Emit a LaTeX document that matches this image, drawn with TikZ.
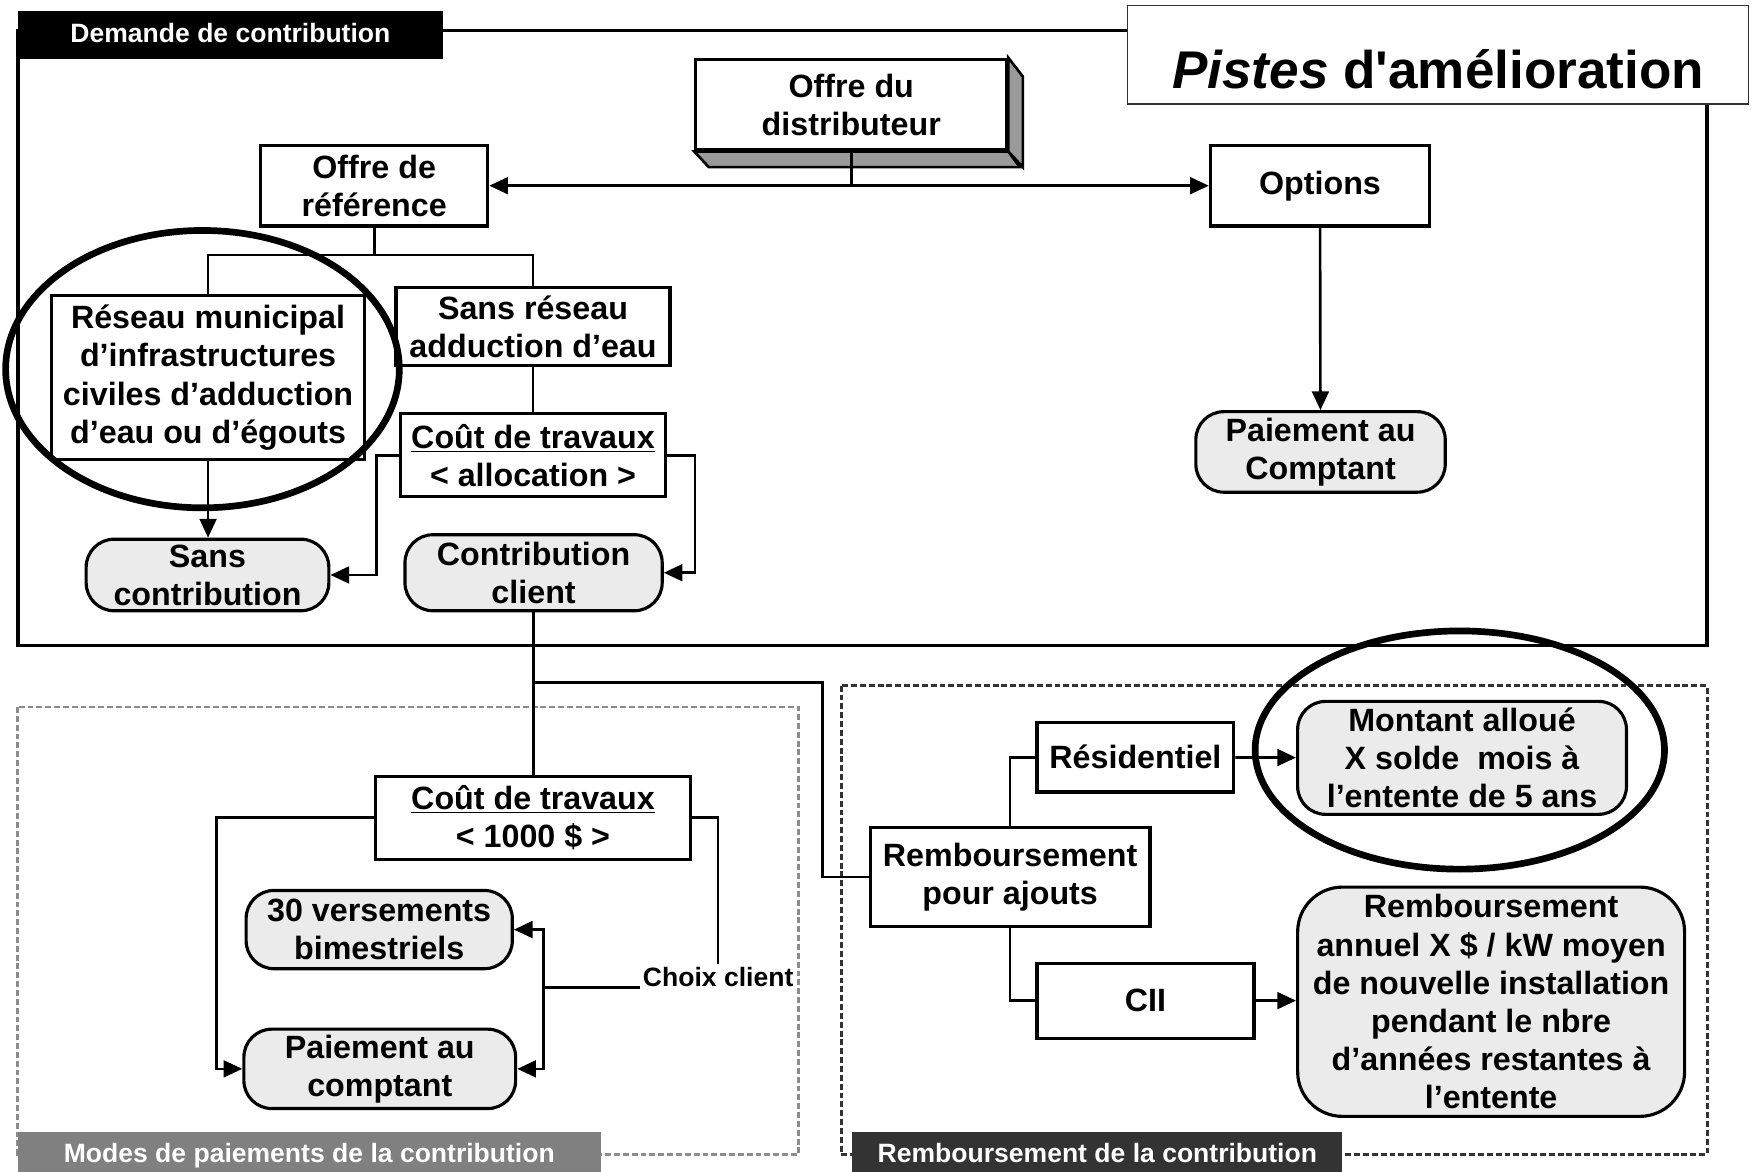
\documentclass[tikz,border=0pt]{standalone}
\usepackage{fontspec}
\setmainfont{Liberation Sans}
\usetikzlibrary{arrows.meta}

\definecolor{termgray}{HTML}{EBEBEB}
\definecolor{shadowgray}{HTML}{9A9A9A}
\definecolor{tagdark}{HTML}{333333}
\definecolor{taggray}{HTML}{808080}
\definecolor{dashgray}{HTML}{8C8C8C}

\newcommand{\boxfont}{\fontsize{16.4}{19.4}\selectfont\bfseries}
\newcommand{\tagfont}{\fontsize{13.5}{16}\selectfont\bfseries}

\begin{document}
\begin{tikzpicture}[x=0.02cm, y=-0.02cm, line width=1.35pt,
		>={Triangle[length=9.5pt,width=8.5pt]},
		box/.style={draw, line width=1.6pt, fill=white, align=center, inner sep=0pt, font=\boxfont},
		term/.style={box, fill=termgray, rounded corners=0.5cm},
		tag/.style={fill=black, text=white, font=\tagfont, inner sep=0pt, text height=9.8pt, text depth=2.8pt},
		zone/.style={line width=1.5pt, dash pattern=on 3pt off 1.5pt}]
		\useasboundingbox (0,0) rectangle (1568,1047.7);
	
		% cadre du haut
		\draw[line width=1.7pt] (16,27) rectangle (1526,577);
		\node[tag, minimum width=7.6cm, minimum height=0.86cm] (demande) at (206,31.5) {Demande de contribution};
		\node[draw=black!80, line width=0.8pt, fill=white, minimum width=11.1cm, minimum height=1.76cm, inner sep=0pt,
			font=\fontsize{27}{30}\selectfont\bfseries, text height=34pt, text depth=0pt] (pistes) at (1285.5,49)
			{\textit{Pistes} d\textquotesingle amélioration};
	
		% cadres pointilles
		\draw[zone, draw=dashgray] (16,632) rectangle (714,1032);
		\draw[zone, draw=tagdark] (752,613) rectangle (1526,1032);
		\node[tag, fill=taggray, minimum width=10.42cm, minimum height=0.84cm] (modes) at (276.5,1033) {Modes de paiements de la contribution};
		\node[tag, fill=tagdark, minimum width=8.76cm, minimum height=0.84cm] (rembtag) at (981,1033) {Remboursement de la contribution};
	
		% boites
		\node[box, minimum width=5.56cm, minimum height=1.62cm] (distrib) at (761,93.5) {Offre du\\distributeur};
		\draw[fill=shadowgray] (distrib.south west) -- ++(13,14) -- ++(278,0) -- (distrib.south east) -- cycle;
		\draw[fill=shadowgray] (distrib.south east) -- ++(13,14) -- ++(0,-81) -- (distrib.north east) -- cycle;
		\node[box, minimum width=4.06cm, minimum height=1.44cm] (reference) at (334.5,166) {Offre de\\référence};
		\node[box, minimum width=3.92cm, minimum height=1.44cm] (options) at (1180,166) {Options};
		\node[box, minimum width=5.6cm, minimum height=2.94cm] (reseau) at (186,337.5)
			{Réseau municipal\\d’infrastructures\\civiles d’adduction\\d’eau ou d’égouts};
		\node[box, minimum width=4.9cm, minimum height=1.4cm] (sansres) at (476.5,292) {Sans réseau\\adduction d’eau};
		\node[box, minimum width=4.74cm, minimum height=1.48cm] (coutA) at (476.5,407) {\underline{Coût de travaux}\\< allocation >};
		\node[term, minimum width=4.34cm, minimum height=1.28cm] (sanscontrib) at (185.5,514) {Sans\\contribution};
		\node[term, minimum width=4.6cm, minimum height=1.36cm] (contrib) at (477,512) {Contribution\\client};
		\node[term, minimum width=4.46cm, minimum height=1.44cm] (paieopt) at (1180.5,404) {Paiement au\\Comptant};
	
		\node[box, minimum width=5.62cm, minimum height=1.48cm] (coutB) at (476.5,731) {\underline{Coût de travaux}\\< 1000 \$ >};
		\node[term, minimum width=4.76cm, minimum height=1.4cm] (versements) at (339,831) {30 versements\\bimestriels};
		\node[term, minimum width=4.86cm, minimum height=1.42cm] (paiement) at (339.5,955.5) {Paiement au\\comptant};
		\node[font=\tagfont, inner sep=1pt] (choix) at (642,873) {Choix client};
	
		\node[box, minimum width=5cm, minimum height=1.76cm] (ajouts) at (903,784) {Remboursement\\pour ajouts};
		\node[box, minimum width=3.52cm, minimum height=1.24cm] (resid) at (1015,677) {Résidentiel};
		\node[box, minimum width=3.88cm, minimum height=1.34cm] (cii) at (1024,894.5) {CII};
		\node[term, minimum width=5.88cm, minimum height=2.02cm] (montant) at (1307,677.5)
			{Montant alloué\\X solde\ \ mois à\\l’entente de 5 ans};
		\node[term, rounded corners=0.8cm, minimum width=6.92cm, minimum height=4.1cm] (annuel) at (1333,895.5)
			{Remboursement\\annuel X \$ / kW moyen\\de nouvelle installation\\pendant le nbre\\d’années restantes à\\l’entente};
	
		% liens
		\draw[<->] (reference) -- (options);
		\draw (distrib.south) -- (distrib.south |- reference.east);
		\coordinate (j1) at (334.5,228);
		\draw (reference.south) -- (j1);
		\draw (reseau.north) |- (j1) -| (sansres.north);
		\draw (sansres.south) -- (sansres.south |- coutA.north);
		\draw[->] (reseau.south) -- (reseau.south |- sanscontrib.north);
		\draw[->] (coutA.west) -- ++(-20,0) |- (sanscontrib.east);
		\draw[->] (coutA.east) -- ++(25,0) |- (contrib.east);
		\draw[->] (options) -- (paieopt);
	
		\coordinate (j2) at (477,610);
		\draw (contrib.south) -- (contrib.south |- coutB.north);
		\draw (j2) -- ++(258,0) |- (ajouts.west);
		\draw[->] (coutB.west) -- ++(-141,0) |- (paiement.west);
		\draw (coutB.east) -| (choix.north);
		\coordinate (j3) at (486,883);
		\draw (j3) -- (j3 -| choix.west);
		\draw[->] (j3) |- (versements.east);
		\draw[->] (j3) |- (paiement.east);
	
		\draw (ajouts.north) |- (resid.west);
		\draw (ajouts.south) |- (cii.west);
		\draw[->] (resid) -- (montant);
		\draw[->] (cii.east) -- (cii.east -| annuel.west);
	
		% cercles
		\draw[line width=3.4pt] (181,330) ellipse [x radius=3.52cm, y radius=2.48cm];
		\draw[line width=3.4pt] (1305,670.5) ellipse [x radius=3.66cm, y radius=2.13cm];
	\end{tikzpicture}
\end{document}
